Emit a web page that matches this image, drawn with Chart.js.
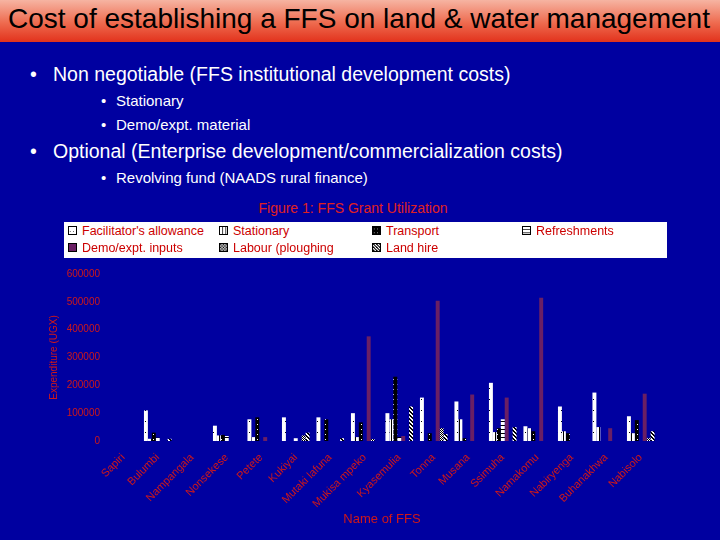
<!DOCTYPE html>
<html>
<head>
<meta charset="utf-8">
<script src="https://cdn.jsdelivr.net/npm/chart.js@4/dist/chart.umd.min.js"></script>
<style>
  html, body { margin: 0; padding: 0; }
  body { width: 720px; height: 540px; background: #0000a0; position: relative; overflow: hidden;
         font-family: "Liberation Sans", Arial, sans-serif; }
  #titleBar { position: absolute; left: 0; top: 0; width: 720px; height: 42px;
              background: linear-gradient(#f6b4a2, #ee6a4e 55%, #e2321c); }
  #titleBar span { position: absolute; left: 8px; top: 3px; font-size: 28px; color: #000; white-space: nowrap; }
  .txt { position: absolute; color: #fff; white-space: nowrap; }
  .b1 { font-size: 19.5px; }
  .b2 { font-size: 15px; }
  #figTitle { position: absolute; left: 0; width: 706px; top: 200px; text-align: center;
              color: #e02020; font-size: 14px; }
  #legend { position: absolute; left: 64px; top: 222px; width: 603px; height: 36px; background: #fff;
            display: grid; grid-template-columns: 151px 153px 150px auto; grid-template-rows: 17px 17px;
            padding-left: 4px; box-sizing: border-box; }
  .li { display: flex; align-items: center; color: #cc0000; font-size: 12.5px; white-space: nowrap; }
  .li canvas { width: 9px; height: 9px; border: 1px solid #000; margin-right: 5px; box-sizing: border-box; }
  #chart { position: absolute; left: 0; top: 262px; }
</style>
</head>
<body>
<div id="titleBar"><span>Cost of establishing a FFS on land &amp; water management</span></div>
<div class="txt b1" style="left:30px;top:63px;">•</div>
<div class="txt b1" style="left:53px;top:63px;">Non negotiable (FFS institutional development costs)</div>
<div class="txt b2" style="left:101px;top:92px;">•</div>
<div class="txt b2" style="left:116px;top:92px;">Stationary</div>
<div class="txt b2" style="left:101px;top:116px;">•</div>
<div class="txt b2" style="left:116px;top:116px;">Demo/expt. material</div>
<div class="txt b1" style="left:30px;top:140px;">•</div>
<div class="txt b1" style="left:53px;top:140px;">Optional (Enterprise development/commercialization costs)</div>
<div class="txt b2" style="left:101px;top:169px;">•</div>
<div class="txt b2" style="left:116px;top:169px;">Revolving fund (NAADS rural finance)</div>
<div id="figTitle">Figure 1: FFS Grant Utilization</div>
<div id="legend"></div>
<canvas id="chart" width="720" height="275"></canvas>
<script>
// FFS names (x categories)
const categories = ['Sapiri', 'Bulumbi', 'Nampangala', 'Nonsekese', 'Petete', 'Kukiyai', 'Mutaki lafuna',
  'Mukisa mpeko', 'Kyasemulia', 'Tonna', 'Musana', 'Ssimuha', 'Namakomu', 'Nabiryenga', 'Buhanakhwa', 'Nabisolo'];

// expenditure per item (UGX)
const facilitator = [0, 110000, 0, 55000, 78000, 85000, 85000, 100000, 100000, 156000, 142000, 209000, 53000, 124000, 174000, 89000];
const stationary = [0, 8000, 0, 20000, 14000, 0, 0, 14000, 78000, 0, 78000, 32000, 46000, 35000, 50000, 28000];
const transport = [0, 30000, 0, 22000, 85000, 0, 78000, 67000, 231000, 28000, 10000, 46000, 35000, 28000, 0, 75000];
const refreshments = [0, 12000, 0, 18000, 0, 10000, 0, 0, 14000, 0, 0, 78000, 0, 0, 0, 0];
const demoInputs = [0, 0, 0, 0, 14000, 0, 0, 376000, 18000, 504000, 167000, 156000, 515000, 0, 46000, 170000];
const labour = [0, 0, 0, 0, 0, 20000, 0, 7000, 0, 46000, 0, 0, 0, 0, 0, 10000];
const landHire = [0, 8000, 0, 0, 0, 30000, 10000, 0, 124000, 25000, 0, 50000, 0, 0, 0, 35000];

const seriesNames = ["Facilitator's allowance", 'Stationary', 'Transport', 'Refreshments',
  'Demo/expt. inputs', 'Labour (ploughing', 'Land hire'];
const yTicks = [0, 100000, 200000, 300000, 400000, 500000, 600000];

const RED = '#d01818';

// small fill patterns like the old excel hatch fills
function makeTile(w, h, bg, fg, pixels) {
    const c = document.createElement('canvas');
    c.width = w; c.height = h;
    const g = c.getContext('2d');
    g.fillStyle = bg; g.fillRect(0, 0, w, h);
    g.fillStyle = fg;
    pixels.forEach(p => g.fillRect(p[0], p[1], p[2] || 1, p[3] || 1));
    return c;
}
const tiles = [
    makeTile(4, 11, '#fff', '#000', [[1, 5]]),                        // facilitator: white, sparse dots
    makeTile(4, 4, '#fff', '#000', [[3, 0, 1, 4]]),                   // stationary: vertical line
    makeTile(4, 5, '#000', '#fff', [[1, 2]]),                         // transport: black with white dots
    makeTile(1, 4, '#fff', '#000', [[0, 3]]),                         // refreshments: horizontal lines
    makeTile(1, 1, '#6a1f64', '#6a1f64', []),                         // demo: purple
    makeTile(2, 2, '#fff', '#000', [[0, 0], [1, 1]]),                 // labour: fine checker
    makeTile(4, 4, '#fff', '#000', [[0, 0, 2, 1], [1, 1, 2, 1], [2, 2, 2, 1], [3, 3, 1, 1], [0, 3]]) // land hire
];
const ctxChart = document.getElementById('chart').getContext('2d');
const fills = tiles.map(t => ctxChart.createPattern(t, 'repeat'));

// legend built as html so it can sit in a 4-column box
const legendEl = document.getElementById('legend');
seriesNames.forEach((name, i) => {
    const item = document.createElement('div');
    item.className = 'li';
    const sw = document.createElement('canvas');
    sw.width = 9; sw.height = 9;
    const sg = sw.getContext('2d');
    sg.fillStyle = sg.createPattern(tiles[i], 'repeat');
    sg.fillRect(0, 0, 9, 9);
    item.appendChild(sw);
    item.appendChild(document.createTextNode(name));
    legendEl.appendChild(item);
});

const seriesData = [facilitator, stationary, transport, refreshments, demoInputs, labour, landHire];

new Chart(ctxChart, {
    type: 'bar',
    data: {
        labels: categories,
        datasets: seriesData.map((d, i) => ({
            label: seriesNames[i],
            data: d,
            backgroundColor: fills[i],
            borderWidth: 0,
            categoryPercentage: 0.8,
            barPercentage: 1.0
        }))
    },
    options: {
        responsive: false,
        animation: false,
        layout: { padding: { left: 48, right: 62, top: 10, bottom: 8 } },
        plugins: {
            legend: { display: false },
            tooltip: { enabled: false }
        },
        scales: {
            x: {
                grid: { display: false, drawTicks: false },
                border: { display: false },
                ticks: {
                    color: RED,
                    font: { family: 'Liberation Sans', size: 11 },
                    minRotation: 45,
                    maxRotation: 45,
                    autoSkip: false,
                    padding: 10
                },
                title: {
                    display: true,
                    text: 'Name of FFS',
                    color: RED,
                    font: { family: 'Liberation Sans', size: 13 },
                    padding: { top: 0, bottom: 2 }
                },
                afterFit: function(scale) { scale.height = 88; }
            },
            y: {
                min: 0,
                max: 600000,
                grid: { display: false, drawTicks: false },
                border: { display: false },
                afterBuildTicks: function(scale) {
                    scale.ticks = yTicks.map(v => ({ value: v }));
                },
                ticks: {
                    color: RED,
                    font: { family: 'Liberation Sans', size: 10 },
                    padding: 6,
                    callback: function(value) { return String(value); }
                },
                title: {
                    display: true,
                    text: 'Expenditure (UGX)',
                    color: RED,
                    font: { family: 'Liberation Sans', size: 10 },
                    padding: 0
                },
                afterFit: function(scale) { scale.width = 58; }
            }
        }
    }
});
</script>
</body>
</html>
